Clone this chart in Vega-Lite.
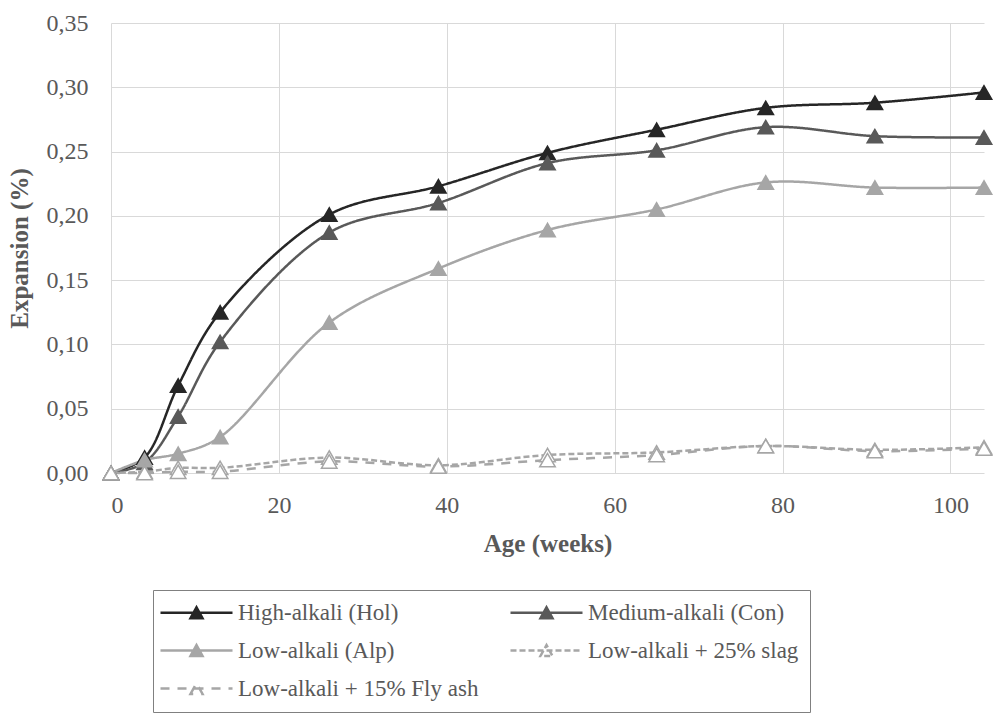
{
  "$schema": "https://vega.github.io/schema/vega-lite/v6.json",
  "width": 873,
  "height": 450,
  "autosize": {"type": "none"},
  "padding": {"left": 111, "top": 23, "right": 13, "bottom": 246},
  "background": "white",
  "config": {
    "font": "'Liberation Serif', 'DejaVu Serif', serif",
    "view": {"stroke": null},
    "axis": {
      "gridColor": "#d9d9d9",
      "gridWidth": 1,
      "domain": false,
      "ticks": false,
      "labelFont": "'Liberation Serif', 'DejaVu Serif', serif",
      "labelFontSize": 24,
      "labelColor": "#595959",
      "titleFont": "'Liberation Serif', 'DejaVu Serif', serif",
      "titleFontSize": 25,
      "titleColor": "#595959",
      "titleFontWeight": "bold"
    }
  },
  "data": {
    "values": [
      {"series": "High-alkali (Hol)", "age": 0, "exp": 0.0},
      {"series": "High-alkali (Hol)", "age": 4, "exp": 0.012},
      {"series": "High-alkali (Hol)", "age": 8, "exp": 0.068},
      {"series": "High-alkali (Hol)", "age": 13, "exp": 0.125},
      {"series": "High-alkali (Hol)", "age": 26, "exp": 0.201},
      {"series": "High-alkali (Hol)", "age": 39, "exp": 0.223},
      {"series": "High-alkali (Hol)", "age": 52, "exp": 0.249},
      {"series": "High-alkali (Hol)", "age": 65, "exp": 0.267},
      {"series": "High-alkali (Hol)", "age": 78, "exp": 0.284},
      {"series": "High-alkali (Hol)", "age": 91, "exp": 0.288},
      {"series": "High-alkali (Hol)", "age": 104, "exp": 0.296},
      {"series": "Medium-alkali (Con)", "age": 0, "exp": 0.0},
      {"series": "Medium-alkali (Con)", "age": 4, "exp": 0.008},
      {"series": "Medium-alkali (Con)", "age": 8, "exp": 0.044},
      {"series": "Medium-alkali (Con)", "age": 13, "exp": 0.102},
      {"series": "Medium-alkali (Con)", "age": 26, "exp": 0.187},
      {"series": "Medium-alkali (Con)", "age": 39, "exp": 0.210},
      {"series": "Medium-alkali (Con)", "age": 52, "exp": 0.241},
      {"series": "Medium-alkali (Con)", "age": 65, "exp": 0.251},
      {"series": "Medium-alkali (Con)", "age": 78, "exp": 0.269},
      {"series": "Medium-alkali (Con)", "age": 91, "exp": 0.262},
      {"series": "Medium-alkali (Con)", "age": 104, "exp": 0.261},
      {"series": "Low-alkali (Alp)", "age": 0, "exp": 0.0},
      {"series": "Low-alkali (Alp)", "age": 4, "exp": 0.010},
      {"series": "Low-alkali (Alp)", "age": 8, "exp": 0.015},
      {"series": "Low-alkali (Alp)", "age": 13, "exp": 0.028},
      {"series": "Low-alkali (Alp)", "age": 26, "exp": 0.117},
      {"series": "Low-alkali (Alp)", "age": 39, "exp": 0.159},
      {"series": "Low-alkali (Alp)", "age": 52, "exp": 0.189},
      {"series": "Low-alkali (Alp)", "age": 65, "exp": 0.205},
      {"series": "Low-alkali (Alp)", "age": 78, "exp": 0.226},
      {"series": "Low-alkali (Alp)", "age": 91, "exp": 0.222},
      {"series": "Low-alkali (Alp)", "age": 104, "exp": 0.222},
      {"series": "Low-alkali + 25% slag", "age": 0, "exp": 0.0},
      {"series": "Low-alkali + 25% slag", "age": 4, "exp": 0.001},
      {"series": "Low-alkali + 25% slag", "age": 8, "exp": 0.004},
      {"series": "Low-alkali + 25% slag", "age": 13, "exp": 0.004},
      {"series": "Low-alkali + 25% slag", "age": 26, "exp": 0.012},
      {"series": "Low-alkali + 25% slag", "age": 39, "exp": 0.006},
      {"series": "Low-alkali + 25% slag", "age": 52, "exp": 0.014},
      {"series": "Low-alkali + 25% slag", "age": 65, "exp": 0.016},
      {"series": "Low-alkali + 25% slag", "age": 78, "exp": 0.021},
      {"series": "Low-alkali + 25% slag", "age": 91, "exp": 0.018},
      {"series": "Low-alkali + 25% slag", "age": 104, "exp": 0.020},
      {"series": "Low-alkali + 15% Fly ash", "age": 0, "exp": 0.0},
      {"series": "Low-alkali + 15% Fly ash", "age": 4, "exp": 0.0},
      {"series": "Low-alkali + 15% Fly ash", "age": 8, "exp": 0.001},
      {"series": "Low-alkali + 15% Fly ash", "age": 13, "exp": 0.001},
      {"series": "Low-alkali + 15% Fly ash", "age": 26, "exp": 0.009},
      {"series": "Low-alkali + 15% Fly ash", "age": 39, "exp": 0.005},
      {"series": "Low-alkali + 15% Fly ash", "age": 52, "exp": 0.010},
      {"series": "Low-alkali + 15% Fly ash", "age": 65, "exp": 0.014},
      {"series": "Low-alkali + 15% Fly ash", "age": 78, "exp": 0.021},
      {"series": "Low-alkali + 15% Fly ash", "age": 91, "exp": 0.017},
      {"series": "Low-alkali + 15% Fly ash", "age": 104, "exp": 0.019}
    ]
  },
  "encoding": {
    "x": {
      "field": "age",
      "type": "quantitative",
      "scale": {"domain": [0, 104], "nice": false, "zero": false},
      "axis": {"values": [0, 20, 40, 60, 80, 100], "title": "Age (weeks)", "labelPadding": 20, "titlePadding": 14}
    },
    "y": {
      "field": "exp",
      "type": "quantitative",
      "scale": {"domain": [0, 0.35], "nice": false},
      "axis": {
        "values": [0, 0.05, 0.1, 0.15, 0.2, 0.25, 0.3, 0.35],
        "labelExpr": "replace(format(datum.value, '.2f'), '.', ',')",
        "title": "Expansion (%)",
        "labelPadding": 23,
        "titlePadding": 14
      }
    }
  },
  "layer": [
    {
      "mark": {"type": "line", "interpolate": "catmull-rom", "strokeWidth": 2.5},
      "encoding": {
        "color": {
          "field": "series",
          "type": "nominal",
          "sort": null,
          "scale": {
            "domain": ["High-alkali (Hol)", "Medium-alkali (Con)", "Low-alkali (Alp)", "Low-alkali + 25% slag", "Low-alkali + 15% Fly ash"],
            "range": ["#262626", "#595959", "#A6A6A6", "#A6A6A6", "#A6A6A6"]
          },
          "legend": {
            "title": null,
            "orient": "none",
            "legendX": 42,
            "legendY": 567,
            "direction": "horizontal",
            "columns": 2,
            "symbolType": "M-6,0H6M-1,0.9L0,-0.9L1,0.9Z",
            "symbolSize": 144,
            "symbolOffset": 21,
            "symbolStrokeWidth": 2.5,
            "labelFont": "'Liberation Serif', 'DejaVu Serif', serif",
            "labelFontSize": 23,
            "labelColor": "#595959",
            "labelOffset": 30,
            "labelLimit": 400,
            "columnPadding": 26,
            "rowPadding": 14,
            "padding": 11,
            "strokeColor": "#808080",
            "fillColor": "white",
            "encode": {
              "symbols": {
                "update": {
                  "fill": {"signal": "datum.value === 'Low-alkali + 25% slag' || datum.value === 'Low-alkali + 15% Fly ash' ? '#ffffff' : scale('color', datum.value)"},
                  "stroke": {"signal": "scale('color', datum.value)"},
                  "opacity": {"value": 1}
                }
              }
            }
          }
        },
        "strokeDash": {
          "field": "series",
          "type": "nominal",
          "sort": null,
          "scale": {
            "domain": ["High-alkali (Hol)", "Medium-alkali (Con)", "Low-alkali (Alp)", "Low-alkali + 25% slag", "Low-alkali + 15% Fly ash"],
            "range": [[1, 0], [1, 0], [1, 0], [6, 3], [9, 8]]
          },
          "legend": {"title": null}
        }
      }
    },
    {
      "mark": {"type": "point", "shape": "triangle-up", "size": 240, "filled": false, "strokeWidth": 1.5, "opacity": 1},
      "encoding": {
        "color": {
          "field": "series",
          "type": "nominal",
          "sort": null,
          "scale": {
            "domain": ["High-alkali (Hol)", "Medium-alkali (Con)", "Low-alkali (Alp)", "Low-alkali + 25% slag", "Low-alkali + 15% Fly ash"],
            "range": ["#262626", "#595959", "#A6A6A6", "#A6A6A6", "#A6A6A6"]
          }
        },
        "fill": {
          "field": "series",
          "type": "nominal",
          "sort": null,
          "scale": {
            "domain": ["High-alkali (Hol)", "Medium-alkali (Con)", "Low-alkali (Alp)", "Low-alkali + 25% slag", "Low-alkali + 15% Fly ash"],
            "range": ["#262626", "#595959", "#A6A6A6", "#ffffff", "#ffffff"]
          },
          "legend": null
        }
      }
    }
  ]
}
